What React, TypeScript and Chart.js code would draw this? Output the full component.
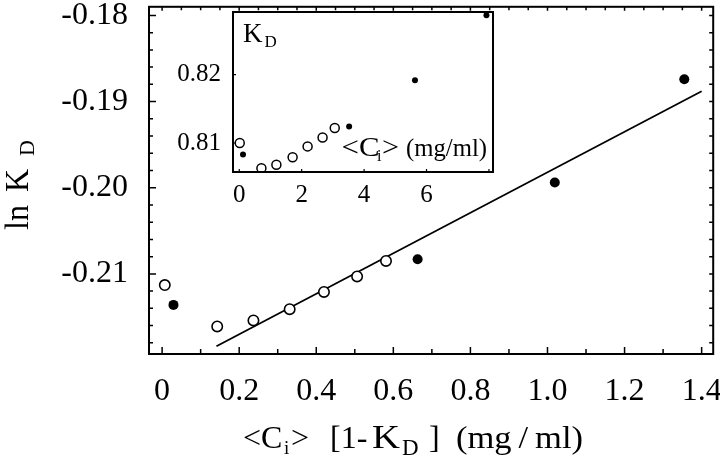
import React, { useEffect, useRef } from "react";
import { Chart, registerables } from "chart.js";

Chart.register(...registerables);

const FONT = "'Liberation Serif', 'Times New Roman', Times, serif";

// ---- main plot data ----
const mainOpenX = [0.007, 0.143, 0.237, 0.331, 0.42, 0.506, 0.581];
const mainOpenY = [-0.2113, -0.2161, -0.2154, -0.2141, -0.2121, -0.2103, -0.2085];
const mainFilledX = [0.0295, 0.663, 1.019, 1.355];
const mainFilledY = [-0.2136, -0.2083, -0.1994, -0.1874];
const fitX = [0.141, 1.4];
const fitY = [-0.2184, -0.1888];
const mainXTicks = [0, 0.2, 0.4, 0.6, 0.8, 1.0, 1.2, 1.4];
const mainYTicks = [-0.21, -0.2, -0.19, -0.18];

// ---- inset data ----
const insetOpenX = [0.016, 0.71, 1.19, 1.71, 2.19, 2.67, 3.06];
const insetOpenY = [0.81, 0.8063, 0.8068, 0.8079, 0.8095, 0.8108, 0.8122];
const insetFilledX = [0.12, 3.52, 5.63, 7.92];
const insetFilledY = [0.8083, 0.8124, 0.8192, 0.8287];
const insetXTicks = [0, 2, 4, 6];
const insetYTicks = [0.81, 0.82];

const pts = (xs: number[], ys: number[]) => xs.map((x, i) => ({ x, y: ys[i] }));

type Side = { step: number; majors: number[]; major: number; minor: number };
type FrameCfg = { frame: number; tick: number; bottom?: Side; top?: Side; left?: Side; right?: Side };

function tickValues(min: number, max: number, step: number) {
  const out: number[] = [];
  const k0 = Math.ceil(min / step - 1e-9);
  const k1 = Math.floor(max / step + 1e-9);
  for (let k = k0; k <= k1; k++) out.push(k * step);
  return out;
}

function makeFramePlugin(id: string, cfg: FrameCfg) {
  return {
    id,
    afterDatasetsDraw(chart: any) {
      const { ctx, chartArea: a } = chart;
      const sx = chart.scales.x;
      const sy = chart.scales.y;
      const isMajor = (v: number, s: Side) => s.majors.some((m) => Math.abs(m - v) < s.step * 0.1);
      ctx.save();
      ctx.strokeStyle = "#000";
      ctx.lineWidth = cfg.tick;
      ctx.beginPath();
      const hor = (s: Side | undefined, y: number, dir: number) => {
        if (!s) return;
        for (const v of tickValues(sx.min, sx.max, s.step)) {
          const p = sx.getPixelForValue(v);
          const len = isMajor(v, s) ? s.major : s.minor;
          ctx.moveTo(p, y);
          ctx.lineTo(p, y + dir * len);
        }
      };
      const ver = (s: Side | undefined, x: number, dir: number) => {
        if (!s) return;
        for (const v of tickValues(sy.min, sy.max, s.step)) {
          const p = sy.getPixelForValue(v);
          const len = isMajor(v, s) ? s.major : s.minor;
          ctx.moveTo(x, p);
          ctx.lineTo(x + dir * len, p);
        }
      };
      hor(cfg.bottom, a.bottom, -1);
      hor(cfg.top, a.top, 1);
      ver(cfg.left, a.left, 1);
      ver(cfg.right, a.right, -1);
      ctx.stroke();
      ctx.lineWidth = cfg.frame;
      ctx.strokeRect(a.left, a.top, a.right - a.left, a.bottom - a.top);
      ctx.restore();
    },
  };
}

function drawText(ctx: CanvasRenderingContext2D, text: string, x: number, y: number, size: number, width?: number) {
  ctx.font = `${size}px ${FONT}`;
  const w = ctx.measureText(text).width || 1;
  ctx.save();
  ctx.translate(x, y);
  if (width) ctx.scale(width / w, 1);
  ctx.textAlign = "left";
  ctx.textBaseline = "alphabetic";
  ctx.fillStyle = "#000";
  ctx.fillText(text, 0, 0);
  ctx.restore();
}

const mainTitles = {
  id: "mainTitles",
  afterDraw(chart: any) {
    const ctx: CanvasRenderingContext2D = chart.ctx;
    // x axis title: <C_i> [1- K_D] (mg/ml)
    const b = 448;
    drawText(ctx, "<C", 243, b, 32);
    drawText(ctx, "i", 284, 454, 19);
    drawText(ctx, ">", 291, b, 32);
    drawText(ctx, "[1-", 330, b, 32);
    drawText(ctx, "K", 372, b, 33, 28);
    drawText(ctx, "D", 402, 455, 23);
    drawText(ctx, "]", 429, b, 32);
    drawText(ctx, "(mg\u2009/\u2009ml)", 456, b, 32, 127);
    // y axis title: ln K_D (rotated)
    ctx.save();
    ctx.translate(28, 230);
    ctx.rotate(-Math.PI / 2);
    drawText(ctx, "ln", 0, 0, 33, 25);
    drawText(ctx, "K", 38, 0, 33, 23);
    drawText(ctx, "D", 74, 6, 22, 16);
    ctx.restore();
  },
};

const insetTitles = {
  id: "insetTitles",
  afterDraw(chart: any) {
    const ctx: CanvasRenderingContext2D = chart.ctx;
    const ox = -160; // canvas offset
    drawText(ctx, "K", 243 + ox, 41.5, 27);
    drawText(ctx, "D", 264.5 + ox, 46.5, 17);
    const b = 156;
    drawText(ctx, "<C", 341.5 + ox, b, 27, 38);
    drawText(ctx, "i", 377 + ox, 161, 16);
    drawText(ctx, ">", 382 + ox, b, 27, 17);
    drawText(ctx, "(mg/ml)", 406 + ox, b, 25, 81);
  },
};

export default function App() {
  const mainRef = useRef<HTMLCanvasElement | null>(null);
  const insetRef = useRef<HTMLCanvasElement | null>(null);

  useEffect(() => {
    if (!mainRef.current || !insetRef.current) return;
    Chart.defaults.font.family = FONT;
    Chart.defaults.color = "#000";

    const main = new Chart(mainRef.current, {
      type: "scatter",
      data: {
        datasets: [
          {
            label: "open",
            data: pts(mainOpenX, mainOpenY),
            pointStyle: "circle",
            pointRadius: 5.2,
            pointBorderWidth: 1.6,
            pointBackgroundColor: "#fff",
            pointBorderColor: "#000",
            order: 0,
          },
          {
            label: "filled",
            data: pts(mainFilledX, mainFilledY),
            pointStyle: "circle",
            pointRadius: 5,
            pointBorderWidth: 0,
            pointBackgroundColor: "#000",
            pointBorderColor: "#000",
            order: 0,
          },
          {
            type: "line",
            label: "fit",
            data: pts(fitX, fitY),
            showLine: true,
            borderColor: "#000",
            borderWidth: 1.8,
            pointRadius: 0,
            fill: false,
            order: 5,
          } as any,
        ],
      },
      options: {
        animation: false,
        responsive: false,
        devicePixelRatio: 1,
        layout: { padding: { top: 3, right: 5, left: 0, bottom: 0 } },
        plugins: { legend: { display: false }, tooltip: { enabled: false } },
        scales: {
          x: {
            type: "linear",
            min: -0.034,
            max: 1.43,
            afterBuildTicks: (s: any) => {
              s.ticks = mainXTicks.map((v) => ({ value: v }));
            },
            ticks: {
              font: { family: FONT, size: 32 },
              color: "#000",
              padding: 18,
              maxRotation: 0,
              autoSkip: false,
              callback: (v: any) => (Number(v) === 0 ? "0" : Number(v).toFixed(1)),
            },
            grid: { display: false, drawTicks: false },
            border: { display: false },
            afterFit: (s: any) => {
              s.height = 102;
              s.paddingLeft = 0;
              s.paddingRight = 0;
            },
          },
          y: {
            type: "linear",
            min: -0.2193,
            max: -0.179,
            afterBuildTicks: (s: any) => {
              s.ticks = mainYTicks.map((v) => ({ value: v }));
            },
            ticks: {
              font: { family: FONT, size: 32 },
              color: "#000",
              padding: 21,
              autoSkip: false,
              callback: (v: any) => Number(v).toFixed(2),
            },
            grid: { display: false, drawTicks: false },
            border: { display: false },
            afterFit: (s: any) => {
              s.width = 149;
              s.paddingTop = 0;
              s.paddingBottom = 0;
            },
          },
        },
      } as any,
      plugins: [
        makeFramePlugin("mainFrame", {
          frame: 2,
          tick: 1.5,
          bottom: { step: 0.1, majors: mainXTicks, major: 7, minor: 5 },
          top: { step: 0.05, majors: mainXTicks, major: 4, minor: 3.5 },
          left: { step: 0.002, majors: mainYTicks, major: 7, minor: 4 },
          right: { step: 0.002, majors: mainYTicks, major: 4, minor: 4 },
        }),
        mainTitles,
      ],
    });

    const inset = new Chart(insetRef.current, {
      type: "scatter",
      data: {
        datasets: [
          {
            label: "open",
            data: pts(insetOpenX, insetOpenY),
            pointStyle: "circle",
            pointRadius: 4.5,
            pointBorderWidth: 1.5,
            pointBackgroundColor: "#fff",
            pointBorderColor: "#000",
          },
          {
            label: "filled",
            data: pts(insetFilledX, insetFilledY),
            pointStyle: "circle",
            pointRadius: 3,
            pointBorderWidth: 0,
            pointBackgroundColor: "#000",
            pointBorderColor: "#000",
          },
        ],
      },
      options: {
        animation: false,
        responsive: false,
        devicePixelRatio: 1,
        layout: { padding: { top: 12, right: 7, left: 0, bottom: 0 } },
        plugins: { legend: { display: false }, tooltip: { enabled: false } },
        scales: {
          x: {
            type: "linear",
            min: -0.2,
            max: 8.13,
            afterBuildTicks: (s: any) => {
              s.ticks = insetXTicks.map((v) => ({ value: v }));
            },
            ticks: {
              font: { family: FONT, size: 25 },
              color: "#000",
              padding: 8,
              maxRotation: 0,
              autoSkip: false,
              callback: (v: any) => String(Number(v)),
            },
            grid: { display: false, drawTicks: false },
            border: { display: false },
            afterFit: (s: any) => {
              s.height = 43;
              s.paddingLeft = 0;
              s.paddingRight = 0;
            },
          },
          y: {
            type: "linear",
            min: 0.80575,
            max: 0.82918,
            afterBuildTicks: (s: any) => {
              s.ticks = insetYTicks.map((v) => ({ value: v }));
            },
            ticks: {
              font: { family: FONT, size: 25 },
              color: "#000",
              padding: 12,
              autoSkip: false,
              callback: (v: any) => Number(v).toFixed(2),
            },
            grid: { display: false, drawTicks: false },
            border: { display: false },
            afterFit: (s: any) => {
              s.width = 73;
              s.paddingTop = 0;
              s.paddingBottom = 0;
            },
          },
        },
      } as any,
      plugins: [
        makeFramePlugin("insetFrame", {
          frame: 2,
          tick: 1.2,
          bottom: { step: 2, majors: insetXTicks, major: 3, minor: 3 },
          left: { step: 0.01, majors: insetYTicks, major: 3, minor: 3 },
        }),
        insetTitles,
      ],
    });

    return () => {
      main.destroy();
      inset.destroy();
    };
  }, []);

  return (
    <div style={{ position: "fixed", left: 0, top: 0, width: 720, height: 456, background: "#fff" }}>
      <canvas ref={mainRef} width={720} height={456} style={{ position: "absolute", left: 0, top: 0 }} />
      <canvas ref={insetRef} width={340} height={215} style={{ position: "absolute", left: 160, top: 0 }} />
    </div>
  );
}
